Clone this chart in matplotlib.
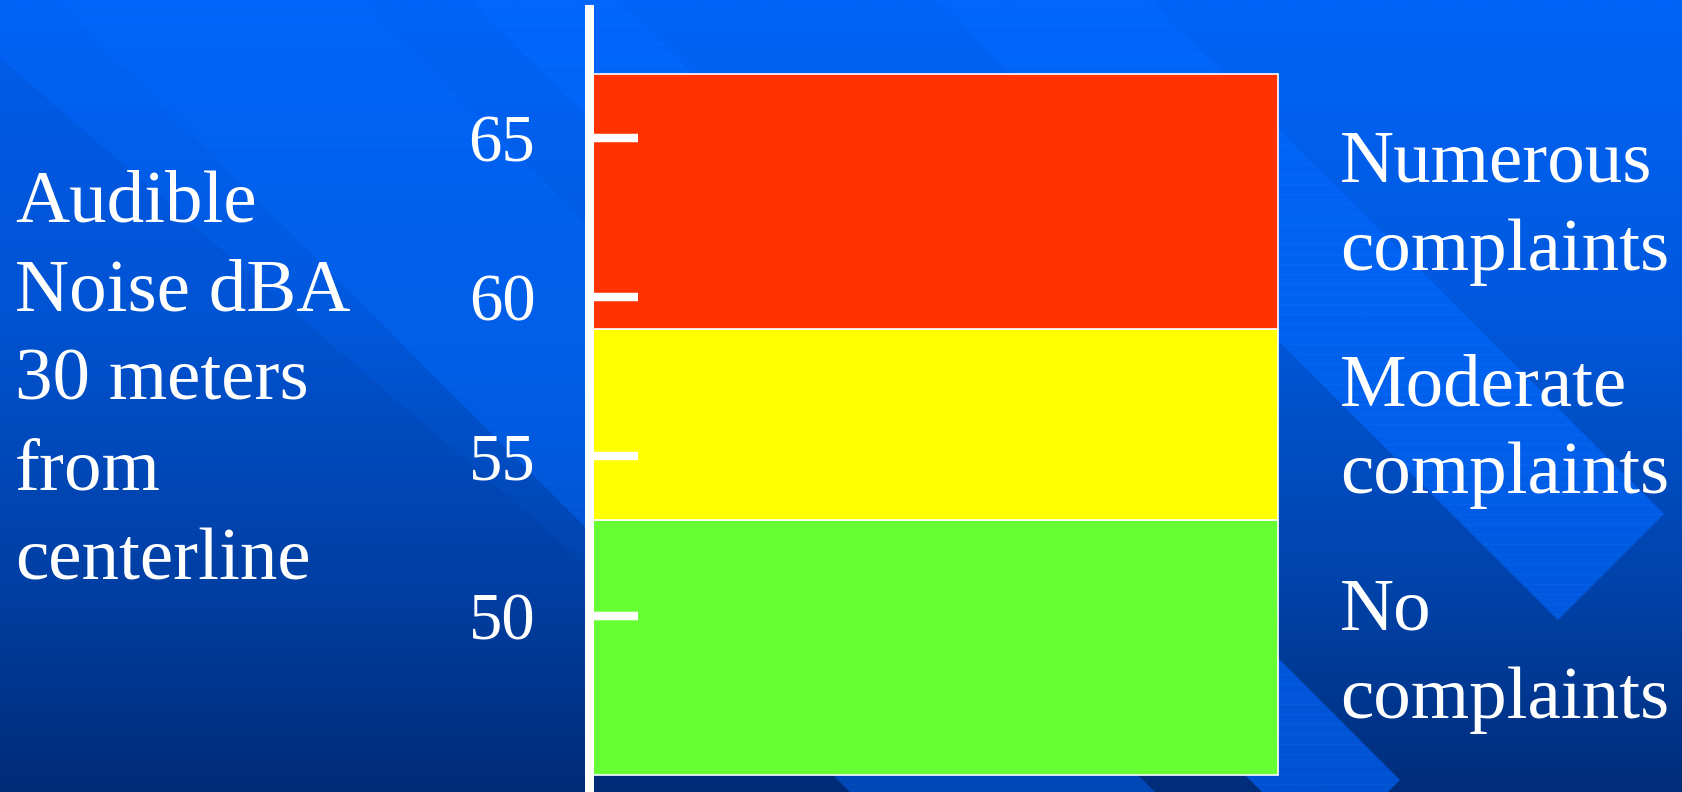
import numpy as np
import matplotlib
matplotlib.use("Agg")
import matplotlib.pyplot as plt
from matplotlib.colors import LinearSegmentedColormap
from matplotlib.patches import Polygon

# noise bands (dBA) and what each one means
band_low = [45, 53, 59]
band_high = [53, 59, 67]
band_colors = ["#66FF33", "#FFFF00", "#FF3300"]
band_text = ["No\ncomplaints", "Moderate\ncomplaints", "Numerous\ncomplaints"]
yticks = [50, 55, 60, 65]
ylabel_lines = ["Audible", "Noise dBA", "30 meters", "from", "centerline"]

W, H = 1683, 792
serif = "Liberation Serif"

fig = plt.figure(figsize=(W / 100, H / 100), dpi=100)

# slide background: vertical blue gradient with lighter diagonal stripes
bg = fig.add_axes([0, 0, 1, 1], zorder=0)
base = LinearSegmentedColormap.from_list(
    "slide", [(0.0, "#0064F8"), (0.4, "#0058DC"), (0.75, "#0042A8"), (1.0, "#002D7A")])
stripe = LinearSegmentedColormap.from_list(
    "stripe", [(0.0, "#0066FC"), (0.5, "#0061EE"), (1.0, "#0052D2")])
soft = LinearSegmentedColormap.from_list(
    "soft", [(0.0, "#0065FA"), (0.5, "#005DE4"), (1.0, "#0048B8")])
ramp = np.linspace(0, 1, 400)[:, None]
bg.imshow(ramp, aspect="auto", cmap=base, extent=(0, W, H, 0), interpolation="bilinear")

# darker lower-left half
bg.add_patch(Polygon([(0, 58), (0, H), (H + 58, H)], closed=True,
                     facecolor="#001a60", alpha=0.08, lw=0))

stripes = [
    ([(58, 0), (363, 0), (H + 363, H), (H + 58, H)], soft, 0.05),
    ([(937, 0), (1150, 0), (1664, 514), (1558, 620)], stripe, 0.12),
    ([(470, 0), (620, 0), (1400, 780), (1388, H), (1262, H)], stripe, 0.12),
]
for pts, cmap, hatch_alpha in stripes:
    poly = Polygon(pts, closed=True, facecolor="none", lw=0)
    bg.add_patch(poly)
    im = bg.imshow(ramp, aspect="auto", cmap=cmap, extent=(0, W, H, 0),
                   interpolation="bilinear")
    im.set_clip_path(poly)
    # faint horizontal hatching inside the stripe
    for yy in np.arange(4, H, 10):
        ln, = bg.plot([0, W], [yy, yy], color="#4d94ff", lw=0.6, alpha=hatch_alpha)
        ln.set_clip_path(poly)

bg.set_xlim(0, W)
bg.set_ylim(H, 0)
bg.axis("off")

# the stacked noise bands against the dBA scale
ax = fig.add_axes([589.5 / W, 0, (1277.5 - 589.5) / W, 783 / H], zorder=1)
ax.patch.set_visible(False)
lo = np.array(band_low)
hi = np.array(band_high)
ax.bar([0, 0, 0], hi - lo, bottom=lo, width=1, align="edge",
       color=band_colors, edgecolor="white", linewidth=1.2, clip_on=False)
ax.set_xlim(0, 1)
ax.set_ylim(44.48, 69.03)

for side in ["top", "right", "bottom"]:
    ax.spines[side].set_visible(False)
ax.spines["left"].set_color("white")
ax.spines["left"].set_linewidth(6.5)
ax.set_xticks([])
ax.set_yticks(yticks)
ax.set_yticklabels([str(t) for t in yticks], family=serif, fontsize=48, color="white")
ax.tick_params(axis="y", direction="in", length=35, width=6.1, color="white", pad=39)

# axis caption on the left, one line at a time
for i, line in enumerate(ylabel_lines):
    fig.text(15 / W, 1 - (221 + 89.5 * i) / H, line, family=serif, fontsize=54,
             color="white", ha="left", va="baseline")

# meaning of each band on the right
label_base = [630, 405, 182]
for txt, yb in zip(band_text, label_base):
    first, second = txt.split("\n")
    fig.text(1340 / W, 1 - yb / H, first, family=serif, fontsize=54,
             color="white", ha="left", va="baseline")
    fig.text(1340 / W, 1 - (yb + 88) / H, second, family=serif, fontsize=54,
             color="white", ha="left", va="baseline")

fig.savefig("out.png", dpi=100)
